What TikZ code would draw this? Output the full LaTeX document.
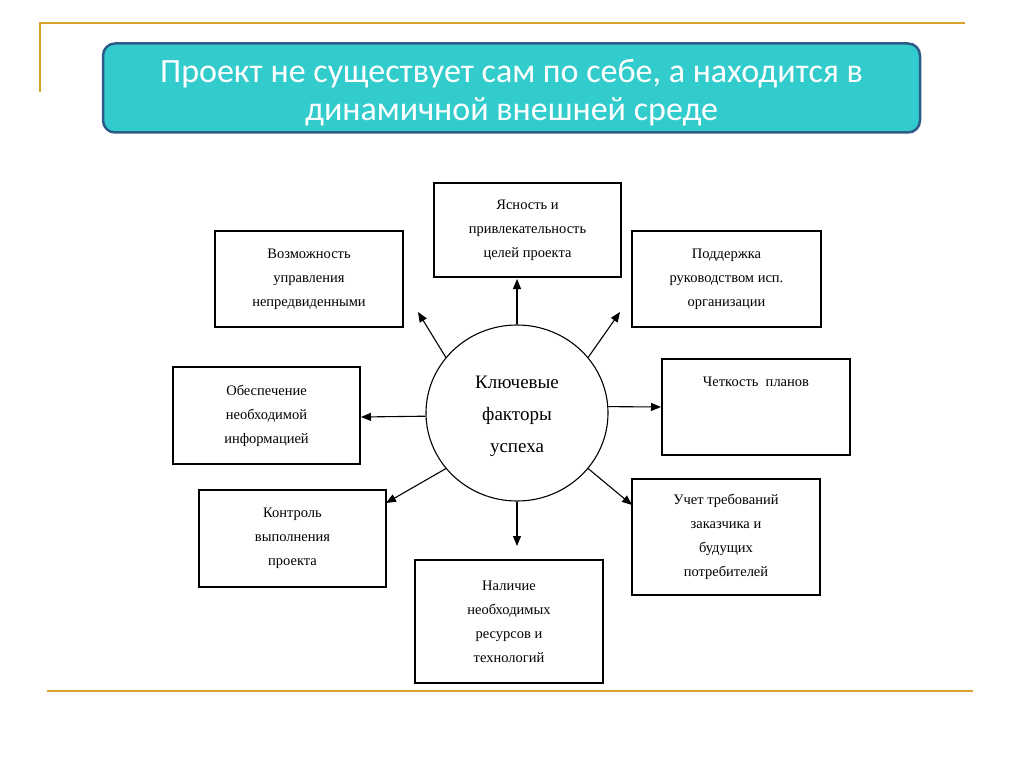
\documentclass[tikz,border=0pt]{standalone}
\usepackage{fontspec}
\setmainfont{Liberation Serif}
\newfontfamily\titlefont{Carlito}
\usetikzlibrary{arrows.meta,shapes.geometric}
\definecolor{gold}{HTML}{D9A32A}
\definecolor{teal}{HTML}{33CCCC}
\definecolor{tealborder}{HTML}{2E5C8A}
\tikzset{
  fbox/.style={draw=black, line width=1.2pt, fill=white, inner sep=0pt, align=center, font=\fontsize{14.5}{24}\selectfont},
  arr/.style={draw=black, line width=1.1pt, -{Triangle[length=10pt,width=8pt]}},
  goldline/.style={draw=gold, line width=1.6pt}
}
\begin{document}
\begin{tikzpicture}[x=1pt,y=-1pt]
\useasboundingbox (0,0) rectangle (1024,767);
% decorative gold lines
\draw[goldline] (40,92) -- (40,23) -- (965,23);
\draw[goldline] (47,691) -- (973,691);
% title
\node[draw=tealborder, line width=2.5pt, fill=teal, rounded corners=12pt,
      minimum width=817pt, minimum height=89pt, inner sep=0pt] (title) at (511.5,88) {};
\node[text=white, align=center, font=\titlefont\fontsize{34}{38}\selectfont]
      (tt) at (511.5,93) {Проект не существует сам по себе, а находится в\\динамичной внешней среде};
% center
\node[draw=black, line width=1.1pt, ellipse, minimum width=182pt, minimum height=176pt,
      inner sep=0pt] (c) at (517,413) {};
\node[align=center, font=\fontsize{19}{32}\selectfont] (ct) at (517,416) {Ключевые\\факторы\\успеха};
% boxes
\node[fbox, minimum width=187pt, minimum height=94pt] (b1) at (527.5,230) {Ясность и\\привлекательность\\целей проекта};
\node[fbox, minimum width=188pt, minimum height=96pt] (b2) at (309,279) {Возможность\\управления\\непредвиденными};
\node[fbox, minimum width=189pt, minimum height=96pt] (b3) at (726.5,279) {Поддержка\\руководством исп.\\организации};
\node[fbox, minimum width=187pt, minimum height=97pt] (b4) at (266.5,415.5) {Обеспечение\\необходимой\\информацией};
\node[fbox, minimum width=188pt, minimum height=96pt] (b5) at (756,407) {};
\node[font=\fontsize{14.5}{24}\selectfont, anchor=north] (b5t) at (756,373) {Четкость\ \ планов};
\node[fbox, minimum width=187pt, minimum height=97pt] (b6) at (292.5,538.5) {Контроль\\выполнения\\проекта};
\node[fbox, minimum width=188pt, minimum height=116pt] (b7) at (726,537) {Учет требований\\заказчика и\\будущих\\потребителей};
\node[fbox, minimum width=188pt, minimum height=123pt] (b8) at (509,621.5) {Наличие\\необходимых\\ресурсов и\\технологий};
% arrow tips
\coordinate (t1) at (517,279);
\coordinate (t2) at (418,312);
\coordinate (t3) at (620,312);
\coordinate (t4) at (361,417);
\coordinate (t5) at (661,407);
\coordinate (t6) at (386,503);
\coordinate (t7) at (632,505);
\coordinate (t8) at (517,546);
\draw[arr] (c.north) -- (t1);
\draw[arr] (c.142) -- (t2);
\draw[arr] (c.38) -- (t3);
\draw[arr] (c.182.5) -- (t4);
\draw[arr] (c.4) -- (t5);
\draw[arr] (c.218) -- (t6);
\draw[arr] (c.322) -- (t7);
\draw[arr] (c.south) -- (t8);
\end{tikzpicture}
\end{document}
